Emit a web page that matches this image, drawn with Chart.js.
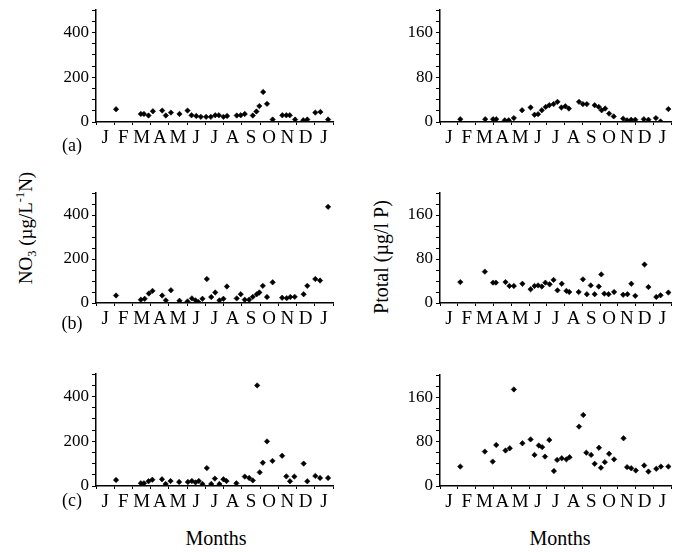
<!DOCTYPE html>
<html>
<head>
<meta charset="utf-8">
<script src="https://cdn.jsdelivr.net/npm/chart.js@4/dist/chart.umd.min.js"></script>
<style>
  body { margin: 0; background: #fff; width: 676px; height: 552px; position: relative; overflow: hidden;
         font-family: "Liberation Serif", "DejaVu Serif", serif; color: #000; }
  canvas { position: absolute; }
  .txt { position: absolute; white-space: nowrap; line-height: 1; transform: translate(-50%, -50%); }
  .vert { transform: translate(-50%, -50%) rotate(-90deg); }
  sub, sup { font-size: 65%; line-height: 0; }
</style>
</head>
<body>
<canvas id="no3a" width="300" height="152" style="left:40px;top:0px"></canvas>
<canvas id="pa" width="276" height="152" style="left:400px;top:0px"></canvas>
<canvas id="no3b" width="300" height="153" style="left:40px;top:180px"></canvas>
<canvas id="pb" width="276" height="153" style="left:400px;top:180px"></canvas>
<canvas id="no3c" width="300" height="154" style="left:40px;top:362px"></canvas>
<canvas id="pc" width="276" height="154" style="left:400px;top:362px"></canvas>

<div class="txt vert" style="left:25px;top:228px;font-size:19px">NO<sub>3</sub> (µg/L<sup>-1</sup>N)</div>
<div class="txt vert" style="left:381px;top:257px;font-size:20px">Ptotal (µg/l P)</div>
<div class="txt" style="left:216px;top:538px;font-size:20px">Months</div>
<div class="txt" style="left:560px;top:538px;font-size:20px">Months</div>
<div class="txt" style="left:72px;top:145px;font-size:18px">(a)</div>
<div class="txt" style="left:72px;top:323px;font-size:18px">(b)</div>
<div class="txt" style="left:72px;top:500px;font-size:18px">(c)</div>

<script>
// month letters, one per month (Jan..Jan)
const monthLabels = ['J','F','M','A','M','J','J','A','S','O','N','D','J'];

// sampling time in months from the start, and value
const no3aMonth = [1.10,2.46,2.63,2.88,3.12,3.63,3.83,4.11,4.58,5.02,5.24,5.50,5.75,6.04,6.30,6.54,6.74,6.99,7.19,7.72,7.94,8.16,8.60,8.80,8.96,9.17,9.38,9.69,10.22,10.44,10.63,10.92,11.37,11.59,12.03,12.31,12.73];
const no3aValue = [57,36,36,29,48,51,29,42,36,51,30,27,23,23,23,30,30,23,27,29,30,36,29,47,71,134,81,11,30,30,30,11,8,11,42,45,11];

const paMonth = [1.14,2.54,2.98,3.16,3.64,3.86,4.15,4.61,5.09,5.31,5.51,5.72,5.94,6.14,6.38,6.60,6.82,7.04,7.24,7.81,8.03,8.25,8.69,8.92,9.08,9.28,9.50,9.76,10.29,10.51,10.74,10.97,11.45,11.71,12.13,12.39,12.83];
const paValue = [5,5,5,5,3,3,7,21,26,13,14,21,27,30,32,36,26,28,24,36,32,32,30,27,21,24,15,10,6,3,4,4,5,4,7,1,23];

const no3bMonth = [1.10,2.46,2.67,2.90,3.10,3.63,3.83,4.11,4.58,5.02,5.26,5.46,5.62,5.84,6.08,6.32,6.54,6.77,6.99,7.18,7.72,7.94,8.16,8.40,8.60,8.82,8.96,9.15,9.38,9.69,10.21,10.46,10.66,10.90,11.39,11.59,12.03,12.29,12.73];
const no3bValue = [34,15,19,43,55,34,12,58,10,7,21,12,4,19,109,27,48,12,19,75,21,40,15,15,28,40,48,78,27,94,24,22,27,28,40,78,109,102,437];

const pbMonth = [1.14,2.52,2.98,3.14,3.68,3.90,4.15,4.63,5.09,5.31,5.51,5.72,5.92,6.16,6.38,6.60,6.84,7.10,7.26,7.79,8.03,8.25,8.47,8.69,8.92,9.06,9.23,9.47,9.78,10.29,10.53,10.75,10.97,11.49,11.71,12.15,12.39,12.83];
const pbValue = [38,57,37,37,38,31,31,35,25,31,32,30,37,34,42,23,35,22,20,20,43,16,32,16,30,52,17,16,20,15,16,35,13,70,29,11,14,19];

const no3cMonth = [1.10,2.46,2.63,2.88,3.09,3.62,3.82,4.09,4.56,5.04,5.26,5.46,5.64,5.84,6.08,6.32,6.52,6.77,6.99,7.16,7.70,8.16,8.40,8.60,8.84,8.98,9.15,9.38,9.68,10.21,10.44,10.64,10.88,11.39,11.59,12.03,12.29,12.73];
const no3cValue = [27,12,12,21,28,30,9,22,18,18,22,16,22,9,80,9,33,9,30,22,12,42,36,25,449,61,104,199,112,135,43,21,42,100,21,45,36,36];

const pcMonth = [1.14,2.52,2.96,3.16,3.68,3.92,4.15,4.63,5.09,5.31,5.55,5.74,5.90,6.14,6.40,6.58,6.84,7.10,7.28,7.81,8.05,8.22,8.49,8.69,8.93,9.04,9.26,9.50,9.78,10.31,10.51,10.74,11.00,11.47,11.71,12.15,12.41,12.83];
const pcValue = [35,62,44,74,64,68,174,77,84,56,73,70,53,83,27,47,50,48,52,107,128,60,56,40,69,33,43,58,48,86,34,32,28,37,26,31,35,35];

// y axes: NO3 0..500, Ptotal 0..200
const no3Labels = [0, 200, 400];
const pLabels = [0, 80, 160];

const serif = '"Liberation Serif", "DejaVu Serif", serif';

function panel(id, months, values, yMax, yStep, yLabels, yWidth, padTop, padRight) {
  new Chart(document.getElementById(id), {
    type: 'scatter',
    data: {
      datasets: [{
        data: months.map((m, i) => ({ x: m, y: values[i] })),
        pointStyle: 'rectRot',
        pointRadius: 2.7,
        borderWidth: 0.6,
        backgroundColor: '#000',
        borderColor: '#000'
      }]
    },
    options: {
      responsive: false,
      animation: false,
      devicePixelRatio: 1,
      layout: { padding: { top: padTop, right: padRight, bottom: 0, left: 0 } },
      plugins: { legend: { display: false }, tooltip: { enabled: false } },
      scales: {
        x: {
          type: 'linear',
          min: 0,
          max: 13,
          afterBuildTicks(s) { s.ticks = monthLabels.map((_, i) => ({ value: i + 0.5 })); },
          afterFit(s) { s.height = 30; s.paddingLeft = 0; s.paddingRight = 0; },
          ticks: {
            autoSkip: false,
            maxRotation: 0,
            padding: 2,
            color: '#000',
            font: { family: serif, size: 19 },
            callback: v => monthLabels[Math.floor(v)]
          },
          grid: { offset: true, drawOnChartArea: false, tickLength: 3, color: '#000', lineWidth: 1 },
          border: { display: true, color: '#000', width: 1.5 }
        },
        y: {
          min: 0,
          max: yMax,
          afterFit(s) { s.width = yWidth; s.paddingTop = 0; s.paddingBottom = 0; },
          ticks: {
            stepSize: yStep,
            autoSkip: false,
            padding: 3,
            color: '#000',
            font: { family: serif, size: 17 },
            callback: v => yLabels.includes(v) ? String(v) : ''
          },
          grid: { drawOnChartArea: false, tickLength: 4, color: '#000', lineWidth: 1 },
          border: { display: true, color: '#000', width: 1.5 }
        }
      }
    }
  });
}

panel('no3a', no3aMonth, no3aValue, 500, 50, no3Labels, 56, 10, 7);
panel('pa', paMonth, paValue, 200, 20, pLabels, 40, 10, 2);
panel('no3b', no3bMonth, no3bValue, 500, 50, no3Labels, 56, 13, 7);
panel('pb', pbMonth, pbValue, 200, 20, pLabels, 40, 13, 2);
panel('no3c', no3cMonth, no3cValue, 500, 50, no3Labels, 56, 12, 7);
panel('pc', pcMonth, pcValue, 200, 20, pLabels, 40, 13, 2);
</script>
</body>
</html>
